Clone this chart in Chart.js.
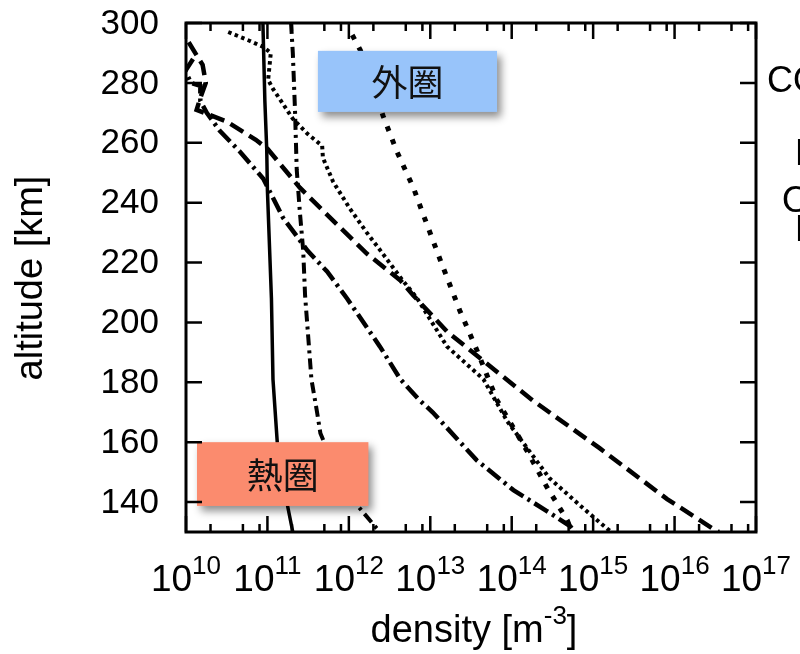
<!DOCTYPE html>
<html>
<head>
<meta charset="utf-8">
<script src="https://cdn.jsdelivr.net/npm/chart.js@4.4.1/dist/chart.umd.min.js"></script>
<style>
  html, body { margin: 0; padding: 0; background: #fff; }
  #wrap { width: 800px; height: 654px; }
</style>
</head>
<body>
<div id="wrap"><canvas id="densityChart" width="800" height="654"></canvas></div>
<script>
// profils : altitude [km] et densité [m^-3]
const solidAlt  = [300, 274, 258, 244, 208, 181, 160, 141, 130];
const solidDens = [8.8e10, 9.3e10, 9.8e10, 1.0e11, 1.12e11, 1.17e11, 1.32e11, 1.7e11, 2.05e11];

const dashDotAlt  = [300, 290, 271, 251, 237, 224, 209, 181, 170, 163, 151, 139, 130];
const dashDotDens = [1.95e11, 2.05e11, 2.18e11, 2.29e11, 2.5e11, 2.75e11, 2.9e11, 3.47e11, 4.07e11, 4.47e11, 6.8e11, 1.26e12, 2.4e12];

const fineDotAlt  = [297, 294, 292, 290, 281, 278, 273, 268, 263, 259, 255, 247, 238, 230, 223, 215, 208, 192, 181, 167, 148, 138, 131, 130];
const fineDotDens = [3.3e10, 6.1e10, 8.9e10, 1.1e11, 1.02e11, 1.17e11, 1.55e11, 2.05e11, 3.1e11, 4.7e11, 4.8e11, 6.4e11, 1.03e12, 1.66e12, 2.6e12, 4.3e12, 6.9e12, 1.6e13, 4.5e13, 8.8e13, 2.9e14, 7.5e14, 1.5e15, 1.7e15];

const coarseDotAlt  = [296, 291, 279, 269, 257, 245, 236, 221, 204, 191, 174, 157, 145, 134, 130];
const coarseDotDens = [1.1e12, 1.38e12, 1.95e12, 2.63e12, 3.9e12, 6.2e12, 8.2e12, 1.32e13, 2.3e13, 3.7e13, 6.6e13, 1.55e14, 2.7e14, 4.8e14, 5.5e14];

const longDashAlt  = [300, 295, 286, 280, 275, 271, 267, 261, 258, 245, 234, 223, 214, 209, 197, 188, 174, 158, 141, 131, 130];
const longDashDens = [8e9, 1.0e10, 1.6e10, 1.75e10, 1.5e10, 1.35e10, 3.2e10, 7.2e10, 1.0e11, 2.5e11, 6.4e11, 1.66e12, 4.3e12, 6.2e12, 1.6e13, 4.1e13, 1.8e14, 1.2e15, 8.1e15, 3.0e16, 3.5e16];

const longDashDotAlt  = [288, 284, 280, 279, 274, 270, 264, 257, 248, 235, 224, 217, 208, 192, 181, 174, 170, 154, 144, 137, 132, 130];
const longDashDotDens = [1.22e10, 9.8e9, 1.15e10, 1.5e10, 1.5e10, 1.8e10, 2.6e10, 4.6e10, 8.9e10, 1.55e11, 3.1e11, 5.4e11, 9.5e11, 2.4e12, 4.3e12, 7.4e12, 1.07e13, 3.7e13, 1.05e14, 2.7e14, 5.2e14, 6e14];

// axes
const altTicks = [140, 160, 180, 200, 220, 240, 260, 280, 300];
const decadeExp = [10, 11, 12, 13, 14, 15, 16, 17];
const minorMult = [2, 5, 8];
const sideLabels = ['CO₂', 'N₂', 'O', 'N'];
const boxLabels = ['外圏', '熱圏'];

const toPts = (alt, dens) => alt.map((a, i) => ({ x: dens[i], y: a }));

const FONT = '"Liberation Sans", Arial, Helvetica, sans-serif';
const CJK = '"Noto Sans CJK JP", "Noto Sans CJK SC", sans-serif';

function supText(ctx, x, y, base, sup, size, supSize) {
    ctx.font = size + 'px ' + FONT;
    const wb = ctx.measureText(base).width;
    ctx.font = supSize + 'px ' + FONT;
    const ws = ctx.measureText(sup).width;
    const x0 = x - (wb + ws) / 2;
    ctx.textAlign = 'left';
    ctx.textBaseline = 'alphabetic';
    ctx.font = size + 'px ' + FONT;
    ctx.fillText(base, x0, y);
    ctx.font = supSize + 'px ' + FONT;
    ctx.fillText(sup, x0 + wb, y - size * 0.47);
}

function drawBox(ctx, xs, ys, x1, x2, y1, y2, color, text) {
    const l = xs.getPixelForValue(x1), r = xs.getPixelForValue(x2);
    const t = ys.getPixelForValue(y1), b = ys.getPixelForValue(y2);
    ctx.save();
    ctx.shadowColor = 'rgba(0,0,0,0.45)';
    ctx.shadowBlur = 8;
    ctx.shadowOffsetX = 4;
    ctx.shadowOffsetY = 5;
    ctx.fillStyle = color;
    ctx.fillRect(l, t, r - l, b - t);
    ctx.restore();
    ctx.fillStyle = '#111';
    ctx.font = '36px ' + CJK;
    ctx.textAlign = 'center';
    ctx.textBaseline = 'middle';
    ctx.fillText(text, (l + r) / 2, (t + b) / 2 + 1);
}

const decorPlugin = {
    id: 'decor',
    afterDraw(chart) {
        const ctx = chart.ctx;
        const a = chart.chartArea;
        const xs = chart.scales.x, ys = chart.scales.y;

        // étiquettes encadrées
        drawBox(ctx, xs, ys, 10 ** 11.62, 10 ** 13.82, 290.7, 270.3, '#98c4fa', boxLabels[0]);
        drawBox(ctx, xs, ys, 10 ** 10.135, 10 ** 12.24, 160, 138.7, '#fb8b6e', boxLabels[1]);

        ctx.save();
        ctx.strokeStyle = '#000';
        ctx.lineWidth = 3;
        ctx.strokeRect(a.left, a.top, a.right - a.left, a.bottom - a.top);

        // ticks vers l'intérieur
        ctx.lineWidth = 2.5;
        ctx.beginPath();
        decadeExp.forEach(e => {
            const px = xs.getPixelForValue(10 ** e);
            ctx.moveTo(px, a.bottom); ctx.lineTo(px, a.bottom - 16);
            ctx.moveTo(px, a.top); ctx.lineTo(px, a.top + 16);
            if (e < 17) {
                minorMult.forEach(m => {
                    const mx = xs.getPixelForValue(m * 10 ** e);
                    ctx.moveTo(mx, a.bottom); ctx.lineTo(mx, a.bottom - 8);
                    ctx.moveTo(mx, a.top); ctx.lineTo(mx, a.top + 8);
                });
            }
        });
        altTicks.forEach(v => {
            const py = ys.getPixelForValue(v);
            ctx.moveTo(a.left, py); ctx.lineTo(a.left + 16, py);
            ctx.moveTo(a.right, py); ctx.lineTo(a.right - 16, py);
        });
        ctx.stroke();

        ctx.fillStyle = '#000';
        // y tick labels
        ctx.font = '35px ' + FONT;
        ctx.textAlign = 'right';
        ctx.textBaseline = 'middle';
        altTicks.forEach(v => ctx.fillText(String(v), 159, ys.getPixelForValue(v) + 1));

        // x tick labels 10^n
        decadeExp.forEach(e => {
            supText(ctx, xs.getPixelForValue(10 ** e), 591, '10', String(e), 37, 26);
        });

        // titres d'axes
        ctx.font = '38px ' + FONT;
        const t1 = 'density [m';
        const w1 = ctx.measureText(t1).width;
        ctx.font = '26px ' + FONT;
        const w2 = ctx.measureText('-3').width;
        ctx.font = '38px ' + FONT;
        const w3 = ctx.measureText(']').width;
        const x0 = 474 - (w1 + w2 + w3) / 2;
        ctx.textAlign = 'left';
        ctx.textBaseline = 'alphabetic';
        ctx.fillText(t1, x0, 642);
        ctx.font = '26px ' + FONT;
        ctx.fillText('-3', x0 + w1, 624);
        ctx.font = '38px ' + FONT;
        ctx.fillText(']', x0 + w1 + w2, 642);

        ctx.save();
        ctx.translate(42, 278);
        ctx.rotate(-Math.PI / 2);
        ctx.textAlign = 'center';
        ctx.textBaseline = 'alphabetic';
        ctx.fillText('altitude [km]', 0, 0);
        ctx.restore();

        // légende coupée au bord droit
        ctx.font = '36px ' + FONT;
        ctx.textAlign = 'left';
        ctx.textBaseline = 'middle';
        ctx.fillText(sideLabels[0], a.right + 11, 82);
        ctx.fillText(sideLabels[1], a.right + 39, 155);
        ctx.fillText(sideLabels[2], a.right + 26, 202);
        ctx.fillText(sideLabels[3], a.right + 39, 231);
        ctx.restore();
    }
};

function serie(alt, dens, dash, width) {
    return {
        data: toPts(alt, dens),
        showLine: true,
        borderColor: '#000',
        backgroundColor: '#000',
        borderWidth: width,
        borderDash: dash,
        pointRadius: 0,
        tension: 0,
        fill: false
    };
}

new Chart(document.getElementById('densityChart'), {
    type: 'scatter',
    data: {
        datasets: [
            serie(solidAlt, solidDens, [], 3.5),
            serie(dashDotAlt, dashDotDens, [11, 5, 3, 5], 4),
            serie(fineDotAlt, fineDotDens, [3.5, 3.5], 4),
            serie(coarseDotAlt, coarseDotDens, [5, 9], 5),
            serie(longDashAlt, longDashDens, [15, 7], 4.5),
            serie(longDashDotAlt, longDashDotDens, [16, 5, 3, 5], 4.5)
        ]
    },
    options: {
        responsive: false,
        animation: false,
        layout: { padding: { left: 186, top: 23, right: 44, bottom: 122 } },
        scales: {
            x: { type: 'logarithmic', min: 1e10, max: 1e17, display: false },
            y: { type: 'linear', min: 130, max: 300, display: false }
        },
        plugins: { legend: { display: false }, tooltip: { enabled: false } }
    },
    plugins: [decorPlugin]
});
</script>
</body>
</html>
